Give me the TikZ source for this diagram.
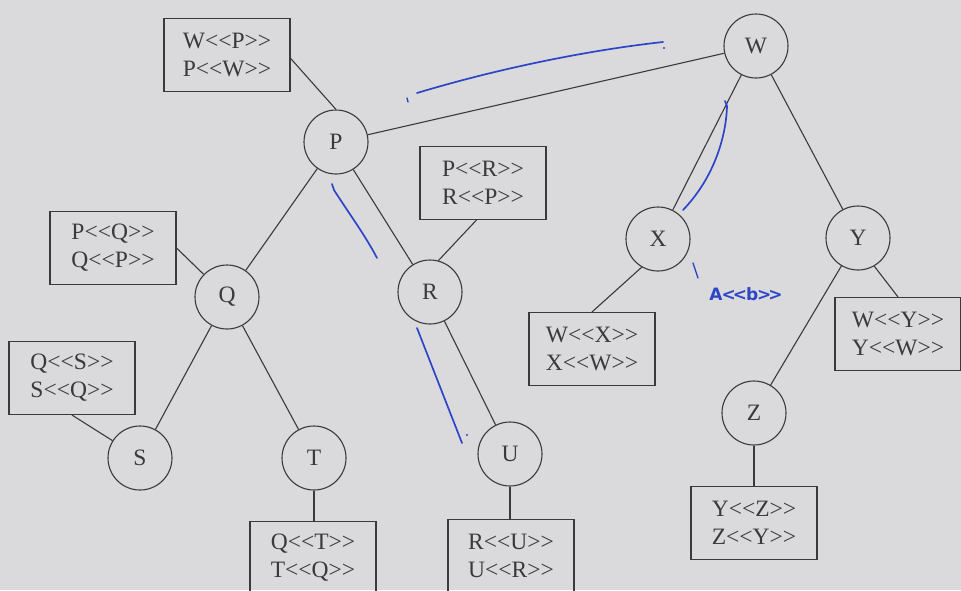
\documentclass[tikz,border=0pt]{standalone}
\usepackage{fontspec}
\setmainfont{Liberation Serif}
\newfontfamily\penfont{DejaVu Sans}
\definecolor{paper}{RGB}{218,218,220}
\definecolor{ink}{RGB}{58,58,60}
\definecolor{penblue}{RGB}{45,70,200}
\begin{document}
\begin{tikzpicture}[x=1pt,y=-1pt,
  vert/.style={circle, draw=ink, line width=1.1pt, minimum size=64pt, inner sep=0pt,
    text=ink, font=\fontsize{23.5}{28}\selectfont},
  lbox/.style={rectangle, draw=ink, line width=1.1pt, minimum width=126pt, minimum height=73pt,
    inner sep=2pt, align=center, text=ink, font=\fontsize{23.5}{28}\selectfont},
  link/.style={draw=ink, line width=1.1pt},
  pen/.style={draw=penblue, line width=1.7pt, line cap=round, line join=round}]
\useasboundingbox (0,0) rectangle (961,590);
\clip (0,0) rectangle (961,590);
\fill[paper] (0,0) rectangle (961,590);

% vertices
\node[vert] (W) at (756,46) {W};
\node[vert] (P) at (336,142) {P};
\node[vert] (Q) at (227,297) {Q};
\node[vert] (R) at (430,292) {R};
\node[vert] (S) at (140,458) {S};
\node[vert] (T) at (314,458) {T};
\node[vert] (U) at (510,454) {U};
\node[vert] (X) at (658,239) {X};
\node[vert] (Y) at (858,238) {Y};
\node[vert] (Z) at (754,413) {Z};

% label boxes
\node[lbox] (wp) at (227,55) {W<{}<P>{}>\\P<{}<W>{}>};
\node[lbox] (pr) at (483,183) {P<{}<R>{}>\\R<{}<P>{}>};
\node[lbox] (pq) at (113,248) {P<{}<Q>{}>\\Q<{}<P>{}>};
\node[lbox] (qs) at (72,378) {Q<{}<S>{}>\\S<{}<Q>{}>};
\node[lbox] (wx) at (592,349) {W<{}<X>{}>\\X<{}<W>{}>};
\node[lbox] (wy) at (898,334) {W<{}<Y>{}>\\Y<{}<W>{}>};
\node[lbox] (yz) at (754,523) {Y<{}<Z>{}>\\Z<{}<Y>{}>};
\node[lbox] (tq) at (313,558) {Q<{}<T>{}>\\T<{}<Q>{}>};
\node[lbox] (ru) at (511,556) {R<{}<U>{}>\\U<{}<R>{}>};

% tree edges
\draw[link] (W) -- (P);
\draw[link] (W) -- (X);
\draw[link] (W) -- (Y);
\draw[link] (P) -- (Q);
\draw[link] (P) -- (R);
\draw[link] (Q) -- (S);
\draw[link] (Q) -- (T);
\draw[link] (R) -- (U);
\draw[link] (Y) -- (Z);

% box links
\draw[link] (wp.-3) -- (P.north);
\draw[link] (pr.-100) -- (R.75);
\draw[link] (pq.east) -- (Q);
\draw[link] (qs.south) -- (S);
\draw[link] (wx.north) -- (X.-120);
\draw[link] (wy.north) -- (Y.-60);
\draw[link] (Z) -- (yz);
\draw[link] (T) -- (T |- tq.north);
\draw[link] (U) -- (U |- ru.north);

% blue pen marks
\coordinate (b1a) at (407,98);
\coordinate (b1b) at (408,102);
\draw[pen, line width=1.4pt] (b1a) -- (b1b);
\coordinate (b1s) at (417,93);
\coordinate (b1e) at (663,42);
\draw[pen] (b1s) .. controls (500,68) and (590,50) .. (b1e);
\fill[penblue] (664,48) circle (1.2pt);

\coordinate (b2s) at (725,101);
\coordinate (b2e) at (683,210);
\draw[pen] (b2s) -- (727,106) .. controls (726,140) and (712,180) .. (b2e);

\coordinate (b3s) at (693,263);
\coordinate (b3e) at (698,278);
\draw[pen, line width=1.4pt] (b3s) -- (b3e);
\node[text=penblue, font=\penfont\bfseries\fontsize{17}{19}\selectfont, inner sep=0pt] (hand) at (746,294) {A\kern-1pt<\kern-3pt<\kern-1pt b\kern-1pt>\kern-3pt>};

\coordinate (b5s) at (332,184);
\coordinate (b5e) at (377,258);
\draw[pen] (b5s) -- (334,190) .. controls (350,215) and (365,235) .. (b5e);

\coordinate (b6s) at (417,328);
\coordinate (b6e) at (462,443);
\draw[pen] (b6s) -- (b6e);
\fill[penblue] (467,435) circle (1.1pt);
\end{tikzpicture}
\end{document}
